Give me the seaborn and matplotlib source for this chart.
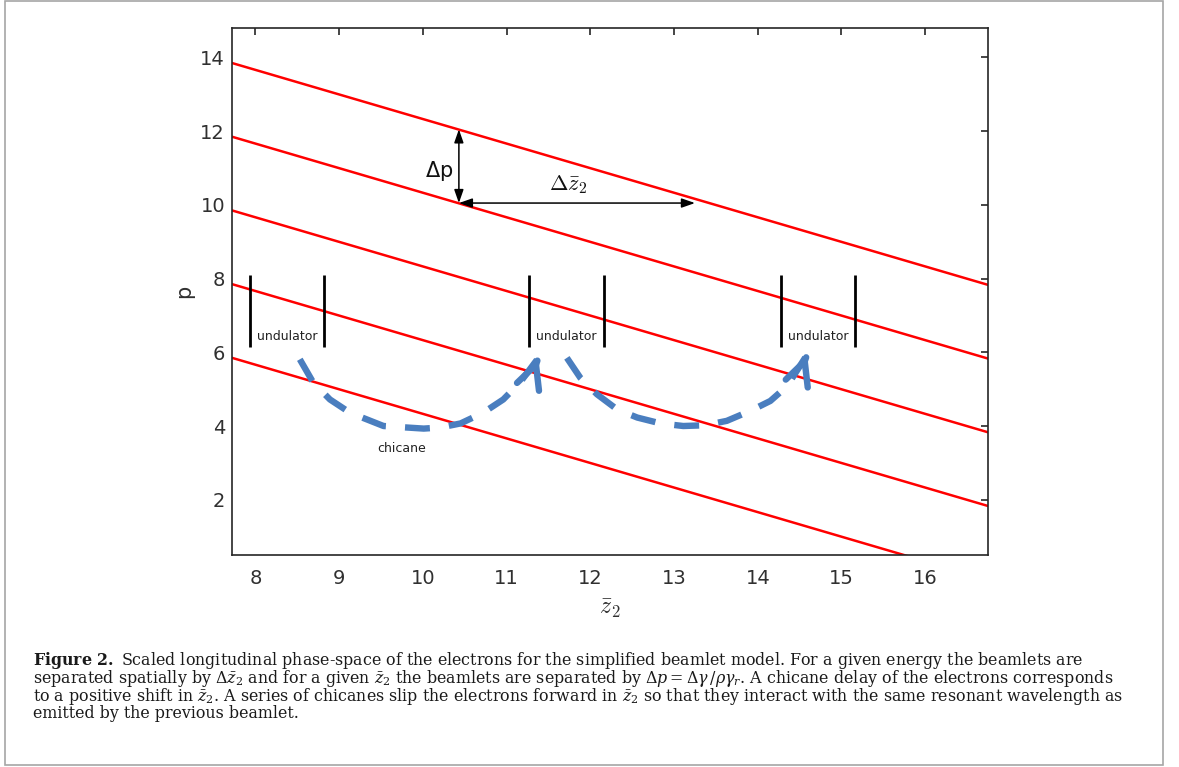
import matplotlib
matplotlib.use("Agg")
import matplotlib.pyplot as plt
from matplotlib.patches import Rectangle
import numpy as np
import pandas as pd
import seaborn as sns

# ---------------------------------------------------------------------------
# Data
# ---------------------------------------------------------------------------
# Beamlet energy lines: p at the left and right ends of the z-window
z_window = [7.72, 16.75]
beamlet_p_left = [13.85, 11.85, 9.85, 7.85, 5.85]
beamlet_p_right = [7.83, 5.83, 3.83, 1.83, -0.17]

# Undulator section boundaries (z̄2) and their extent in p
undulator_edges = [7.93, 8.82, 11.27, 12.16, 14.28, 15.16]
undulator_p_range = [6.15, 8.10]
undulator_label_p = 6.42

# Chicane paths between undulators
chicane1_z = [8.53, 8.69, 8.89, 9.13, 9.53, 10.01, 10.21, 10.45, 10.72, 10.96, 11.16, 11.38]
chicane1_p = [5.81, 5.18, 4.72, 4.36, 4.00, 3.93, 3.96, 4.07, 4.36, 4.72, 5.18, 5.85]
chicane2_z = [11.72, 11.88, 12.08, 12.32, 12.56, 12.84, 13.11, 13.37, 13.63, 13.91, 14.15, 14.35, 14.59]
chicane2_p = [5.85, 5.31, 4.86, 4.45, 4.23, 4.07, 4.00, 4.02, 4.14, 4.41, 4.68, 5.08, 5.94]
chicane_tip_z = [11.38, 14.59]
chicane_tip_p = [5.85, 5.94]
chicane_tail_z = [11.368, 14.578]
chicane_tail_p = [5.774, 5.864]
chicane_label = (9.75, 3.39)

# Separation markers
dp_arrow_z = 10.43
dp_arrow_p = [10.05, 12.05]
dz_arrow_z = [10.43, 13.25]
dz_arrow_p = 10.05

x_ticks = [8, 9, 10, 11, 12, 13, 14, 15, 16]
y_ticks = [2, 4, 6, 8, 10, 12, 14]
x_limits = [7.72, 16.75]
y_limits = [0.5, 14.8]

caption_lines = [
    r"$\mathbf{Figure\ 2.}$ Scaled longitudinal phase-space of the electrons for the simplified beamlet model. For a given energy the beamlets are",
    r"separated spatially by $\mathit{\Delta}\bar{z}_2$ and for a given $\bar{z}_2$ the beamlets are separated by $\mathit{\Delta}p = \mathit{\Delta}\gamma\,/\rho\gamma_r$. A chicane delay of the electrons corresponds",
    r"to a positive shift in $\bar{z}_2$. A series of chicanes slip the electrons forward in $\bar{z}_2$ so that they interact with the same resonant wavelength as",
    r"emitted by the previous beamlet.",
]

# ---------------------------------------------------------------------------
# Style
# ---------------------------------------------------------------------------
sns.set_style("white")
plt.rcParams["font.family"] = ["DejaVu Sans"]
plt.rcParams["axes.edgecolor"] = "#262626"
plt.rcParams["axes.linewidth"] = 1.2

AX_GRAY = "#303030"
RED = "#ff0000"
BLUE = "#4a7ebf"

fig = plt.figure(figsize=(11.79, 7.67), dpi=100)
fig.patch.set_facecolor("white")
ax = fig.add_axes([232 / 1179, 1 - 555 / 767, 756 / 1179, 527 / 767])

# Beamlet lines
lines_df = pd.DataFrame({
    "z": np.repeat([z_window], len(beamlet_p_left), axis=0).ravel(),
    "p": np.column_stack([beamlet_p_left, beamlet_p_right]).ravel(),
    "beamlet": np.repeat(np.arange(len(beamlet_p_left)), 2),
})
sns.lineplot(data=lines_df, x="z", y="p", units="beamlet", estimator=None,
             color=RED, lw=1.8, sort=False, ax=ax, legend=False)

# Undulator boundaries
ax.vlines(undulator_edges, undulator_p_range[0], undulator_p_range[1],
          color="black", lw=2.0, zorder=4)
for a, b in zip(undulator_edges[0::2], undulator_edges[1::2]):
    ax.text((a + b) / 2, undulator_label_p, "undulator", ha="center", va="center",
            fontsize=9, color="#222222")

# Chicane paths
for cz, cp in [(chicane1_z, chicane1_p), (chicane2_z, chicane2_p)]:
    sns.lineplot(x=cz, y=cp, color=BLUE, lw=4.6, sort=False, ax=ax,
                 estimator=None, legend=False)
    ln = ax.lines[-1]
    ln.set_dashes([3.9, 3.0])
    ln.set_dash_capstyle("butt")
    ln.set_zorder(5)
for tz, tp, sz, sp in zip(chicane_tip_z, chicane_tip_p, chicane_tail_z, chicane_tail_p):
    ax.annotate("", xy=(tz, tp), xytext=(sz, sp),
                arrowprops=dict(arrowstyle="->,head_length=0.85,head_width=0.42",
                                color=BLUE, lw=4.6, shrinkA=0, shrinkB=0,
                                mutation_scale=20, joinstyle="miter"),
                zorder=5)
ax.text(chicane_label[0], chicane_label[1], "chicane", ha="center", va="center",
        fontsize=9, color="#222222")

# Separation arrows
arrow_kw = dict(arrowstyle="<|-|>,head_length=0.8,head_width=0.28", color="black",
                lw=1.1, shrinkA=0, shrinkB=0, mutation_scale=10)
ax.annotate("", xy=(dp_arrow_z, dp_arrow_p[1]), xytext=(dp_arrow_z, dp_arrow_p[0]),
            arrowprops=arrow_kw, zorder=6)
ax.annotate("", xy=(dz_arrow_z[1], dz_arrow_p), xytext=(dz_arrow_z[0], dz_arrow_p),
            arrowprops=arrow_kw, zorder=6)
ax.text(10.36, 10.91, r"$\Delta$p", ha="right", va="center", fontsize=15,
        color="#111111")
ax.text(11.74, 10.55, r"$\Delta\bar{z}_2$", ha="center", va="center", fontsize=16,
        color="#111111", math_fontfamily="cm")

# Axes
ax.set_xlim(x_limits)
ax.set_ylim(y_limits)
ax.set_xticks(x_ticks)
ax.set_yticks(y_ticks)
ax.set_xticklabels([str(t) for t in x_ticks])
ax.set_yticklabels([str(t) for t in y_ticks])
ax.tick_params(axis="both", direction="in", length=5, width=1.2, color="#262626",
               labelsize=14, labelcolor=AX_GRAY, top=True, right=True)
ax.tick_params(axis="x", pad=10)
ax.tick_params(axis="y", pad=5)
for s in ax.spines.values():
    s.set_visible(True)
    s.set_color("#262626")
    s.set_linewidth(1.2)
ax.set_xlabel(r"$\bar{z}_2$", fontsize=17, color=AX_GRAY, math_fontfamily="cm")
ax.set_ylabel("p", fontsize=15, color=AX_GRAY)
ax.xaxis.set_label_coords(0.5, -0.078)
ax.yaxis.set_label_coords(-0.05, 0.5)

# Caption as one block of text (anchored on the last baseline)
fig.text(33 / 1179, 1 - 718 / 767, "\n".join(caption_lines), ha="left",
         va="baseline", fontsize=11.45, linespacing=0.82,
         family="DejaVu Serif", math_fontfamily="dejavuserif", color="#1a1a1a")

# Outer frame
fig.patches.append(Rectangle((5 / 1179, 2 / 767), 1158 / 1179, 764 / 767,
                             transform=fig.transFigure, fill=False,
                             edgecolor="#a6a6a6", lw=1.2))

fig.savefig("out.png", dpi=100, facecolor="white")
